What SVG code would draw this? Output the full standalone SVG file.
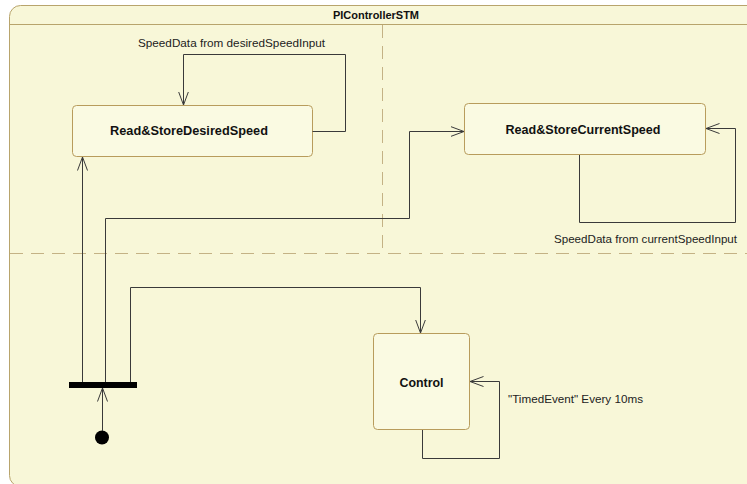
<svg xmlns="http://www.w3.org/2000/svg" width="747" height="484" viewBox="0 0 747 484">
  <defs>
    <marker id="open" markerUnits="userSpaceOnUse" markerWidth="15" markerHeight="12" refX="13.5" refY="6" orient="auto">
      <path d="M0,1 L13.5,6 L0,11" fill="none" stroke="#3a3a3a" stroke-width="1"/>
    </marker>
  </defs>
  <style>
    .frame { fill: #f8f7d8; stroke: #b8a46c; stroke-width: 1; }
    .region { fill: none; stroke: #c4b285; stroke-width: 1; stroke-dasharray: 13 8; }
    .state { fill: #fafae2; stroke: #b89c5c; stroke-width: 1; }
    .title { font-family: "Liberation Sans", Arial, sans-serif; font-size: 11px; font-weight: bold; fill: #111; text-anchor: middle; }
    .name { font-family: "Liberation Sans", Arial, sans-serif; font-size: 12.5px; font-weight: bold; fill: #111; text-anchor: middle; }
    .label { font-family: "Liberation Sans", Arial, sans-serif; font-size: 11.5px; fill: #222; }
    .edge { fill: none; stroke: #3a3a3a; stroke-width: 1; marker-end: url(#open); }
  </style>

  <rect x="0" y="0" width="747" height="484" fill="#ffffff"/>

  <!-- state machine frame -->
  <g id="PIControllerSTM">
    <rect class="frame" x="9.5" y="5.5" width="760" height="481" rx="11" ry="11"/>
    <line x1="9.5" y1="24.5" x2="747" y2="24.5" stroke="#b8a46c" stroke-width="1"/>
    <text class="title" x="376" y="19" textLength="86" lengthAdjust="spacingAndGlyphs">PIControllerSTM</text>
    <!-- orthogonal region separators -->
    <line class="region" x1="382.5" y1="25" x2="382.5" y2="253"/>
    <line class="region" x1="10" y1="253.5" x2="747" y2="253.5"/>
  </g>

  <!-- states -->
  <g id="ReadStoreDesiredSpeed">
    <rect class="state" x="72.5" y="105.5" width="240" height="51" rx="4" ry="4"/>
    <text class="name" x="189" y="135" textLength="158" lengthAdjust="spacingAndGlyphs">Read&amp;StoreDesiredSpeed</text>
  </g>
  <g id="ReadStoreCurrentSpeed">
    <rect class="state" x="464.5" y="103.5" width="241" height="51" rx="4" ry="4"/>
    <text class="name" x="583" y="134" textLength="155" lengthAdjust="spacingAndGlyphs">Read&amp;StoreCurrentSpeed</text>
  </g>
  <g id="Control">
    <rect class="state" x="373.5" y="333.5" width="96" height="96" rx="4" ry="4"/>
    <text class="name" x="421.5" y="386.5" textLength="44" lengthAdjust="spacingAndGlyphs">Control</text>
  </g>

  <!-- pseudo states -->
  <g id="Initial">
    <circle cx="102" cy="437.5" r="7" fill="#000"/>
  </g>
  <g id="Fork">
    <rect x="69" y="382" width="68" height="6" fill="#000"/>
  </g>

  <!-- transitions -->
  <g id="connectors">
    <path class="edge" d="M102.5,431 L102.5,388"/>
    <path class="edge" d="M82.5,382 L82.5,157" stroke="#555"/>
    <path class="edge" d="M105.5,382 L105.5,218.5 L409.5,218.5 L409.5,131.5 L464,131.5"/>
    <path class="edge" d="M130.5,382 L130.5,287.5 L420.5,287.5 L420.5,333"/>
    <path class="edge" d="M312.5,131.5 L345.5,131.5 L345.5,54.5 L183.5,54.5 L183.5,105"/>
    <path class="edge" d="M579.5,155 L579.5,222.5 L735.5,222.5 L735.5,128.5 L706,128.5"/>
    <path class="edge" d="M422.5,430 L422.5,458.5 L499.5,458.5 L499.5,381.5 L470,381.5"/>
    <text class="label" x="138" y="47" textLength="187" lengthAdjust="spacingAndGlyphs">SpeedData from desiredSpeedInput</text>
    <text class="label" x="554" y="243" textLength="183" lengthAdjust="spacingAndGlyphs">SpeedData from currentSpeedInput</text>
    <text class="label" x="508" y="403" textLength="135" lengthAdjust="spacingAndGlyphs">"TimedEvent" Every 10ms</text>
  </g>
</svg>
